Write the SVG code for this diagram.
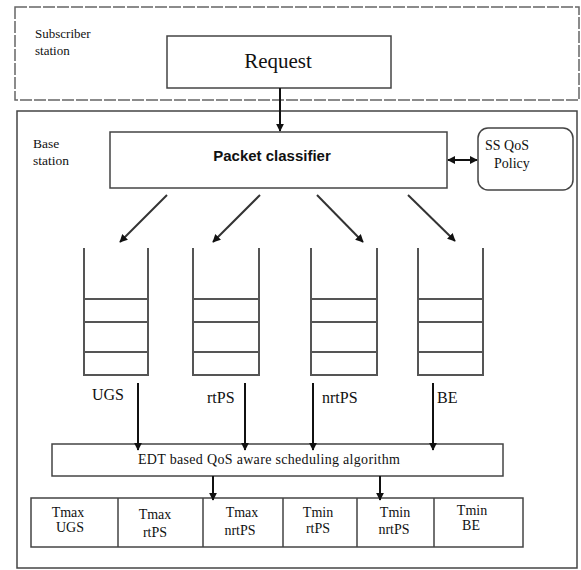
<svg xmlns="http://www.w3.org/2000/svg" width="581" height="570" viewBox="0 0 581 570">
<defs>
<marker id="ah" viewBox="0 0 10 10" refX="9" refY="5" markerWidth="8" markerHeight="8" markerUnits="userSpaceOnUse" orient="auto-start-reverse"><path d="M0,0 L10,5 L0,10 z" fill="#111"/></marker>
</defs>
<style>
text{font-family:'Liberation Serif','Times New Roman',serif;fill:#111}
.box{fill:#fff;stroke:#444;stroke-width:1.5}
.q{fill:none;stroke:#555;stroke-width:2}
.con{stroke:#111;stroke-width:2;fill:none}
.diag{stroke:#333;stroke-width:2;fill:none}
</style>
<rect width="581" height="570" fill="#fff"/>
<g id="subscriber">
<rect x="15" y="7" width="564" height="93" fill="none" stroke="#666" stroke-width="1.5" stroke-dasharray="12,2"/>
<text x="35" y="38" font-size="13">Subscriber</text>
<text x="35" y="55" font-size="13">station</text>
</g>
<g id="request">
<rect class="box" x="167" y="36" width="224" height="52"/>
<text x="278" y="68" font-size="21" text-anchor="middle">Request</text>
</g>
<g id="base">
<rect x="17" y="111" width="560" height="457" fill="none" stroke="#444" stroke-width="1.5"/>
<text x="33" y="148" font-size="13.5">Base</text>
<text x="33" y="165" font-size="13.5">station</text>
</g>
<g id="classifier">
<rect class="box" x="110" y="132" width="337" height="56"/>
<text x="272" y="161" font-size="15" font-weight="bold" text-anchor="middle" style="font-family:'Liberation Sans',Arial,sans-serif">Packet classifier</text>
</g>
<g id="policy">
<rect class="box" x="478" y="128" width="95" height="62" rx="10"/>
<text x="485" y="150" font-size="14">SS QoS</text>
<text x="494" y="168" font-size="14">Policy</text>
</g>
<g id="q-ugs">
<path class="q" d="M84,248 V375 H148 V248 M84,299 H148 M84,322 H148 M84,352 H148"/>
<text x="92" y="400" font-size="16">UGS</text>
</g>
<g id="q-rtps">
<path class="q" d="M193,248 V375 H259 V248 M193,299 H259 M193,322 H259 M193,352 H259"/>
<text x="207" y="403" font-size="16">rtPS</text>
</g>
<g id="q-nrtps">
<path class="q" d="M311,248 V375 H377 V248 M311,299 H377 M311,322 H377 M311,352 H377"/>
<text x="322" y="403" font-size="16">nrtPS</text>
</g>
<g id="q-be">
<path class="q" d="M418,248 V375 H483 V248 M418,299 H483 M418,322 H483 M418,352 H483"/>
<text x="437" y="403" font-size="16">BE</text>
</g>
<g id="scheduler">
<rect class="box" x="52" y="444" width="451" height="32"/>
<text x="138" y="464" font-size="14" textLength="262" lengthAdjust="spacing">EDT based QoS aware scheduling algorithm</text>
</g>
<g id="table">
<rect class="box" x="31" y="498" width="492" height="49"/>
<path d="M118,498 V547 M203,498 V547 M283,498 V547 M357,498 V547 M434,498 V547" stroke="#444" stroke-width="1.5"/>
<g font-size="14" text-anchor="middle">
<text x="68" y="517">Tmax</text><text x="70" y="532">UGS</text>
<text x="155" y="519">Tmax</text><text x="155" y="537">rtPS</text>
<text x="242" y="517">Tmax</text><text x="240" y="535">nrtPS</text>
<text x="318" y="517">Tmin</text><text x="318" y="533">rtPS</text>
<text x="395" y="517">Tmin</text><text x="394" y="534">nrtPS</text>
<text x="472" y="515">Tmin</text><text x="471" y="530">BE</text>
</g>
</g>
<g id="connectors">
<line class="con" x1="280" y1="88" x2="280" y2="131" marker-end="url(#ah)"/>
<line class="con" x1="448" y1="160" x2="477" y2="160" marker-start="url(#ah)" marker-end="url(#ah)"/>
<line class="diag" x1="167" y1="195" x2="120" y2="242" marker-end="url(#ah)"/>
<line class="diag" x1="260" y1="195" x2="213" y2="242" marker-end="url(#ah)"/>
<line class="diag" x1="317" y1="195" x2="363" y2="242" marker-end="url(#ah)"/>
<line class="diag" x1="408" y1="195" x2="455" y2="241" marker-end="url(#ah)"/>
<line class="con" x1="138" y1="383" x2="138" y2="450" marker-end="url(#ah)"/>
<line class="con" x1="245" y1="383" x2="245" y2="450" marker-end="url(#ah)"/>
<line class="con" x1="313" y1="383" x2="313" y2="450" marker-end="url(#ah)"/>
<line class="con" x1="433" y1="383" x2="433" y2="450" marker-end="url(#ah)"/>
<line class="con" x1="213" y1="476" x2="213" y2="500" marker-end="url(#ah)"/>
<line class="con" x1="380" y1="476" x2="380" y2="500" marker-end="url(#ah)"/>
</g>
</svg>
